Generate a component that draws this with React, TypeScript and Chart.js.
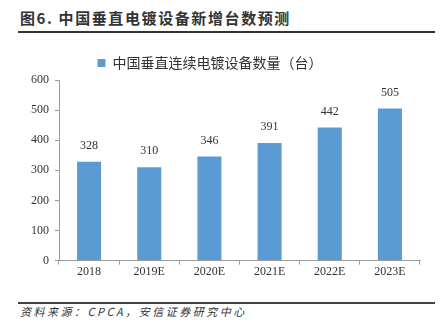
import React, { useEffect, useRef } from "react";
import { Chart, registerables } from "chart.js";

Chart.register(...registerables);

const categories = ["2018", "2019E", "2020E", "2021E", "2022E", "2023E"];
const seriesName = "中国垂直连续电镀设备数量（台）";
const values = [328, 310, 346, 391, 442, 505];
const yTicks = [0, 100, 200, 300, 400, 500, 600];

const titleText = "图6. 中国垂直电镀设备新增台数预测";
const sourceText = "资料来源：CPCA，安信证券研究中心";

const barColor = "#5B9BD5";
const serif = "'Liberation Serif', 'DejaVu Serif', serif";

const dataLabels = {
  id: "dataLabels",
  afterDatasetsDraw(chart: any) {
    const ctx = chart.ctx;
    const meta = chart.getDatasetMeta(0);
    ctx.save();
    ctx.font = `12px ${serif}`;
    ctx.fillStyle = "#333";
    ctx.textAlign = "center";
    ctx.textBaseline = "middle";
    meta.data.forEach((bar: any, i: number) => {
      ctx.fillText(String(values[i]), bar.x, bar.y - 16);
    });
    ctx.restore();
  },
};

export default function App() {
  const ref = useRef<HTMLCanvasElement>(null);
  useEffect(() => {
    if (!ref.current) return;
    const chart = new Chart(ref.current, {
      type: "bar",
      data: {
        labels: categories,
        datasets: [
          {
            label: seriesName,
            data: values,
            backgroundColor: barColor,
            borderWidth: 0,
            barPercentage: 0.4,
            categoryPercentage: 1,
          },
        ],
      },
      options: {
        animation: false,
        responsive: false,
        maintainAspectRatio: false,
        layout: { padding: { left: 0, right: 28, top: 0, bottom: 0 } },
        plugins: {
          legend: {
            display: true,
            position: "top",
            labels: {
              boxWidth: 8,
              boxHeight: 8,
              color: "#333",
              font: { family: "'Noto Sans CJK SC'", size: 14 },
              padding: 6,
            },
          },
          tooltip: { enabled: false },
        },
        scales: {
          x: {
            grid: {
              display: true,
              drawOnChartArea: false,
              drawTicks: true,
              tickLength: 4,
              color: "#999",
              offset: true,
            },
            border: { display: true, color: "#999" },
            ticks: { color: "#333", font: { family: serif, size: 12 }, padding: 0 },
          },
          y: {
            min: 0,
            max: 600,
            afterBuildTicks: (axis: any) => {
              axis.ticks = yTicks.map((v) => ({ value: v }));
            },
            afterFit: (axis: any) => {
              axis.width = 59;
            },
            grid: {
              display: true,
              drawOnChartArea: false,
              drawTicks: true,
              tickLength: 4,
              color: "#999",
            },
            border: { display: true, color: "#999" },
            ticks: { color: "#333", font: { family: serif, size: 12 }, padding: 6 },
          },
        },
      },
      plugins: [dataLabels],
    });
    return () => chart.destroy();
  }, []);

  return (
    <div style={{ position: "absolute", left: 0, top: 0, width: 448, height: 323, background: "#fff" }}>
      <div
        style={{
          position: "absolute",
          left: 20,
          top: 8,
          fontFamily: "'Noto Sans CJK SC'",
          fontWeight: 600,
          fontSize: 15,
          letterSpacing: 1.6,
          color: "#333",
          lineHeight: "20px",
          whiteSpace: "nowrap",
        }}
      >
        {titleText}
      </div>
      <div style={{ position: "absolute", left: 18, top: 31, width: 417, height: 2, background: "#333" }} />
      <canvas
        ref={ref}
        width={448}
        height={229}
        style={{ position: "absolute", left: 0, top: 50, width: 448, height: 229 }}
      />
      <div style={{ position: "absolute", left: 18, top: 302, width: 417, height: 1.5, background: "#444" }} />
      <div
        style={{
          position: "absolute",
          left: 20,
          top: 304,
          fontFamily: "'Noto Sans CJK SC'",
          fontStyle: "italic",
          fontSize: 11,
          letterSpacing: 2.5,
          color: "#333",
          lineHeight: "15px",
          whiteSpace: "nowrap",
        }}
      >
        {sourceText}
      </div>
    </div>
  );
}
